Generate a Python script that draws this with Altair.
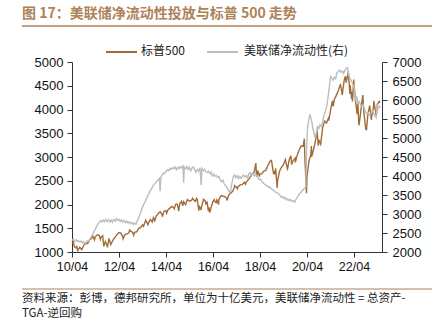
import altair as alt
import pandas as pd

# ---------------- data ----------------
sp_dates = [
    "2010-04-01", "2010-04-23", "2010-05-07", "2010-05-31", "2010-06-15", "2010-06-30", "2010-07-31", "2010-08-31",
    "2010-09-30", "2010-10-31", "2010-11-30", "2010-12-31",
    "2011-01-31", "2011-02-18", "2011-03-16", "2011-03-31", "2011-04-29", "2011-05-31", "2011-06-16", "2011-06-30",
    "2011-07-22", "2011-08-08", "2011-08-31", "2011-09-30", "2011-10-03", "2011-10-27", "2011-11-25", "2011-12-31",
    "2012-01-31", "2012-02-29", "2012-03-31", "2012-04-30", "2012-05-31", "2012-06-04", "2012-06-30", "2012-07-31",
    "2012-08-31", "2012-09-14", "2012-09-30", "2012-10-31", "2012-11-15", "2012-11-30", "2012-12-31",
    "2013-01-31", "2013-02-28", "2013-03-31", "2013-04-18", "2013-04-30", "2013-05-21", "2013-06-24", "2013-06-30",
    "2013-07-31", "2013-08-30", "2013-09-18", "2013-09-30", "2013-10-08", "2013-10-31", "2013-11-30", "2013-12-31",
    "2014-01-31", "2014-02-03", "2014-02-28", "2014-03-31", "2014-04-11", "2014-04-30", "2014-05-31", "2014-06-30",
    "2014-07-31", "2014-08-07", "2014-08-29", "2014-09-18", "2014-09-30", "2014-10-15", "2014-10-31", "2014-11-28",
    "2014-12-16", "2014-12-31",
    "2015-01-30", "2015-02-27", "2015-03-31", "2015-04-30", "2015-05-21", "2015-05-29", "2015-06-30", "2015-07-20",
    "2015-07-31", "2015-08-25", "2015-08-31", "2015-09-29", "2015-09-30", "2015-10-30", "2015-11-03", "2015-11-30",
    "2015-12-14", "2015-12-31",
    "2016-01-20", "2016-01-29", "2016-02-11", "2016-02-29", "2016-03-31", "2016-04-20", "2016-04-29", "2016-05-19",
    "2016-05-31", "2016-06-27", "2016-06-30", "2016-07-29", "2016-08-15", "2016-08-31", "2016-09-30", "2016-10-31",
    "2016-11-04", "2016-11-30", "2016-12-30",
    "2017-01-31", "2017-02-28", "2017-03-01", "2017-03-31", "2017-04-13", "2017-04-28", "2017-05-31", "2017-06-30",
    "2017-07-31", "2017-08-18", "2017-08-31", "2017-09-29", "2017-10-31", "2017-11-30", "2017-12-29",
    "2018-01-26", "2018-02-08", "2018-02-28", "2018-03-23", "2018-03-29", "2018-04-30", "2018-05-31", "2018-06-29",
    "2018-07-31", "2018-08-31", "2018-09-20", "2018-09-28", "2018-10-29", "2018-10-31", "2018-11-23", "2018-11-30",
    "2018-12-24", "2018-12-31",
    "2019-01-31", "2019-02-28", "2019-03-29", "2019-04-30", "2019-05-31", "2019-06-03", "2019-06-28", "2019-07-26",
    "2019-08-05", "2019-08-30", "2019-09-30", "2019-10-02", "2019-10-31", "2019-11-29", "2019-12-31",
    "2020-01-31", "2020-02-19", "2020-02-28", "2020-03-23", "2020-03-31", "2020-04-30", "2020-05-29", "2020-06-08",
    "2020-06-11", "2020-06-30", "2020-07-31", "2020-08-31", "2020-09-02", "2020-09-23", "2020-09-30", "2020-10-30",
    "2020-11-30", "2020-12-31",
    "2021-01-29", "2021-02-26", "2021-03-04", "2021-03-31", "2021-04-30", "2021-05-12", "2021-05-28", "2021-06-30",
    "2021-07-30", "2021-08-31", "2021-09-02", "2021-09-30", "2021-10-29", "2021-11-18", "2021-11-30", "2021-12-31",
    "2022-01-03", "2022-01-27", "2022-01-31", "2022-02-23", "2022-02-28", "2022-03-08", "2022-03-29", "2022-03-31",
    "2022-04-29", "2022-05-20", "2022-05-31", "2022-06-16", "2022-06-30", "2022-07-29", "2022-08-16", "2022-08-31",
    "2022-09-30", "2022-10-12", "2022-10-31", "2022-11-30", "2022-12-28", "2022-12-30",
    "2023-01-31", "2023-02-02", "2023-02-28", "2023-03-13", "2023-03-31", "2023-04-28", "2023-05-10",
]
sp_values = [
    1178, 1217, 1110, 1089, 1115, 1030, 1101, 1049, 1141, 1183, 1180, 1257,
    1286, 1343, 1257, 1325, 1363, 1345, 1267, 1320, 1345, 1119, 1218, 1131, 1099, 1284, 1158, 1257,
    1312, 1365, 1408, 1397, 1310, 1278, 1362, 1379, 1406, 1465, 1440, 1412, 1353, 1416, 1426,
    1498, 1514, 1569, 1541, 1597, 1669, 1573, 1606, 1685, 1633, 1725, 1681, 1656, 1757, 1806, 1848,
    1782, 1741, 1859, 1872, 1815, 1884, 1924, 1960, 1931, 1910, 2003, 2011, 1972, 1862, 2018, 2068, 1973, 2059,
    1995, 2105, 2068, 2086, 2131, 2107, 2063, 2129, 2104, 1868, 1972, 1884, 1920, 2079, 2109, 2080, 2012, 2044,
    1859, 1940, 1829, 1932, 2060, 2102, 2065, 2040, 2097, 2001, 2099, 2174, 2190, 2171, 2168, 2126, 2085, 2199, 2239,
    2279, 2364, 2396, 2363, 2329, 2384, 2412, 2423, 2470, 2425, 2472, 2519, 2575, 2648, 2674,
    2873, 2581, 2714, 2588, 2641, 2648, 2705, 2718, 2816, 2902, 2931, 2914, 2641, 2712, 2633, 2760, 2351, 2507,
    2704, 2784, 2834, 2946, 2752, 2744, 2942, 3026, 2845, 2926, 2977, 2887, 3038, 3141, 3231,
    3226, 3386, 2954, 2237, 2585, 2912, 3044, 3232, 3002, 3100, 3271, 3500, 3580, 3237, 3363, 3270, 3622, 3756,
    3714, 3811, 3768, 3973, 4181, 4063, 4204, 4298, 4395, 4523, 4537, 4308, 4605, 4704, 4567, 4766,
    4797, 4326, 4516, 4225, 4374, 4170, 4632, 4530, 4132, 3901, 4132, 3667, 3785, 4130, 4305, 3955,
    3586, 3577, 3872, 4080, 3783, 3840,
    4077, 4180, 3970, 3855, 4109, 4169, 4138,
]

liq_dates = [
    "2010-04-01", "2010-04-20", "2010-05-10", "2010-06-01", "2010-06-20", "2010-07-10", "2010-08-01", "2010-08-20",
    "2010-09-10", "2010-10-01", "2010-10-20", "2010-11-10", "2010-12-01", "2010-12-20",
    "2011-01-10", "2011-02-01", "2011-02-20", "2011-03-10", "2011-04-01", "2011-04-20", "2011-05-10", "2011-06-01",
    "2011-06-20", "2011-07-10", "2011-08-01", "2011-08-20", "2011-09-10", "2011-10-01", "2011-10-20", "2011-11-10",
    "2011-12-01", "2011-12-20",
    "2012-01-10", "2012-02-01", "2012-02-20", "2012-03-10", "2012-04-01", "2012-04-20", "2012-05-10", "2012-06-01",
    "2012-06-20", "2012-07-10", "2012-08-01", "2012-08-20", "2012-09-10", "2012-10-01", "2012-10-20", "2012-11-10",
    "2012-12-01", "2012-12-20",
    "2013-01-10", "2013-02-01", "2013-02-20", "2013-03-10", "2013-04-01", "2013-04-20", "2013-05-10", "2013-06-01",
    "2013-06-20", "2013-07-10", "2013-08-01", "2013-08-20", "2013-09-10", "2013-10-01", "2013-10-20", "2013-11-10",
    "2013-12-01", "2013-12-20", "2013-12-31",
    "2014-01-10", "2014-02-01", "2014-02-20", "2014-03-10", "2014-04-01", "2014-04-20", "2014-05-10", "2014-06-01",
    "2014-06-20", "2014-07-10", "2014-08-01", "2014-08-20", "2014-09-10", "2014-10-01", "2014-10-20", "2014-11-10",
    "2014-12-01", "2014-12-20", "2014-12-31",
    "2015-01-10", "2015-02-01", "2015-02-20", "2015-03-10", "2015-04-01", "2015-04-20", "2015-05-10", "2015-06-01",
    "2015-06-20", "2015-07-10", "2015-08-01", "2015-08-20", "2015-09-10", "2015-09-30", "2015-10-10", "2015-11-01",
    "2015-11-20", "2015-12-10",
    "2016-01-01", "2016-01-20", "2016-02-10", "2016-03-01", "2016-03-20", "2016-04-10", "2016-05-01", "2016-05-20",
    "2016-06-10", "2016-07-01", "2016-07-20", "2016-08-10", "2016-09-01", "2016-09-20", "2016-10-10", "2016-11-01",
    "2016-11-20", "2016-12-10", "2016-12-31",
    "2017-01-20", "2017-02-10", "2017-03-01", "2017-03-20", "2017-04-10", "2017-05-01", "2017-05-20", "2017-06-10",
    "2017-07-01", "2017-07-20", "2017-08-10", "2017-09-01", "2017-09-20", "2017-10-10", "2017-11-01", "2017-11-20",
    "2017-12-10",
    "2018-01-01", "2018-01-20", "2018-02-10", "2018-03-01", "2018-03-20", "2018-04-10", "2018-05-01", "2018-05-20",
    "2018-06-10", "2018-07-01", "2018-07-20", "2018-08-10", "2018-09-01", "2018-09-20", "2018-10-10", "2018-11-01",
    "2018-11-20", "2018-12-10",
    "2019-01-01", "2019-01-20", "2019-02-10", "2019-03-01", "2019-03-20", "2019-04-10", "2019-05-01", "2019-05-20",
    "2019-06-10", "2019-07-01", "2019-07-20", "2019-08-10", "2019-09-01", "2019-09-20", "2019-10-10", "2019-11-01",
    "2019-11-20", "2019-12-10",
    "2020-01-01", "2020-01-20", "2020-02-10", "2020-03-01", "2020-03-11", "2020-03-25", "2020-04-08", "2020-04-25",
    "2020-05-15", "2020-06-01", "2020-06-15", "2020-07-01", "2020-07-20", "2020-08-05", "2020-08-20", "2020-09-10",
    "2020-10-01", "2020-10-20", "2020-11-10", "2020-12-01", "2020-12-20",
    "2021-01-10", "2021-02-01", "2021-02-20", "2021-03-10", "2021-04-01", "2021-04-20", "2021-05-10", "2021-06-01",
    "2021-06-20", "2021-07-10", "2021-08-01", "2021-08-20", "2021-09-10", "2021-10-01", "2021-10-20", "2021-11-10",
    "2021-12-01", "2021-12-20",
    "2022-01-10", "2022-02-01", "2022-02-20", "2022-03-10", "2022-04-01", "2022-04-20", "2022-05-10", "2022-06-01",
    "2022-06-20", "2022-07-10", "2022-08-01", "2022-08-20", "2022-09-10", "2022-10-01", "2022-10-20", "2022-11-10",
    "2022-12-01", "2022-12-20",
    "2023-01-10", "2023-02-01", "2023-02-20", "2023-03-10", "2023-03-20", "2023-04-10", "2023-05-01", "2023-05-15",
]
liq_values = [
    2300, 2340, 2290, 2320, 2270, 2300, 2260, 2290, 2240, 2270, 2230, 2260, 2300, 2280,
    2360, 2420, 2480, 2540, 2610, 2680, 2740, 2780, 2830, 2790, 2840, 2800, 2860, 2800, 2850, 2790, 2840, 2780,
    2860, 2810, 2880, 2830, 2860, 2800, 2850, 2790, 2830, 2770, 2810, 2760, 2800, 2740, 2780, 2720, 2760, 2730,
    2820, 2900, 2990, 3080, 3180, 3260, 3320, 3400, 3470, 3540, 3620, 3660, 3740, 3780, 3820, 3860, 3900, 3940, 3600,
    3960, 4030, 4080, 4060, 4120, 4160, 4140, 4200, 4170, 4220, 4190, 4240, 4160, 4230, 4190, 4250, 4210, 4260, 3820,
    4230, 4190, 4250, 4170, 4230, 4140, 4210, 4240, 4160, 4100, 4180, 4130, 4210, 3760, 4200, 4140, 4180, 4120,
    4090, 4130, 4060, 4110, 4000, 4050, 3990, 4020, 3960, 3990, 3900, 3850, 3890, 3800, 3760, 3700, 3640, 3580, 3620,
    3820, 3980, 4030, 3960, 4010, 3930, 3990, 3940, 3990, 4030, 3970, 4010, 3950, 4060, 4090, 4020, 4070,
    4000, 4060, 3990, 3950, 3900, 3920, 3850, 3820, 3780, 3760, 3740, 3700, 3720, 3660, 3650, 3610, 3590, 3560,
    3550, 3520, 3480, 3440, 3460, 3400, 3430, 3370, 3390, 3350, 3380, 3330, 3350, 3310, 3380, 3440, 3500, 3540,
    3580, 3620, 3660, 3690, 3700, 4700, 5250, 5450, 5630, 5520, 5420, 5250, 5120, 5000, 5100, 5300,
    5250, 5350, 5300, 5450, 5600,
    5700, 5830, 6050, 6300, 6620, 6580, 6520, 6600, 6560, 6720, 6750, 6790, 6730, 6760, 6700, 6780, 6830, 6850,
    6640, 6560, 6500, 6420, 6350, 5980, 6100, 5920, 5960, 5880, 5830, 5870, 5760, 5680, 5620, 5660, 5600, 5650,
    5710, 5640, 5590, 5540, 5900, 5780, 5840, 5800,
]

x_tick_years = [2010, 2012, 2014, 2016, 2018, 2020, 2022]
left_ticks = [1000, 1500, 2000, 2500, 3000, 3500, 4000, 4500, 5000]
right_ticks = [2000, 2500, 3000, 3500, 4000, 4500, 5000, 5500, 6000, 6500, 7000]

title_text = "图 17：美联储净流动性投放与标普 500 走势"
legend_sp = "标普500"
legend_liq = "美联储净流动性(右)"
source_line1 = "资料来源：彭博，德邦研究所，单位为十亿美元，美联储净流动性 = 总资产-"
source_line2 = "TGA-逆回购"

# ---------------- chart ----------------
BROWN = "#a06c3a"
GRAY = "#bdbdbd"
TAN = "#ae8258"
CJK = "Noto Sans CJK SC"
LAT = "Liberation Sans"

sp_df = pd.DataFrame({"date": sp_dates, "value": sp_values})
liq_df = pd.DataFrame({"date": liq_dates, "value": liq_values})

xscale = alt.Scale(
    type="utc",
    domain=[alt.DateTime(year=2010, month=4, date=1, utc=True),
            alt.DateTime(year=2023, month=6, date=10, utc=True)],
)
xaxis = alt.Axis(
    values=[alt.DateTime(year=y, month=4, date=1, utc=True) for y in x_tick_years],
    labelExpr="utcFormat(datum.value, '%y/%m')", title=None, grid=False,
    labelFont=LAT, labelFontSize=12.5, labelColor="#111", labelPadding=3,
    tickSize=5, tickColor="#333", domainColor="#333", labelFlush=False,
)

sp_line = alt.Chart(sp_df).mark_line(color=BROWN, strokeWidth=1.4).encode(
    x=alt.X("date:T", scale=xscale, axis=xaxis),
    y=alt.Y("value:Q", scale=alt.Scale(domain=[1000, 5000], nice=False, zero=False),
            axis=alt.Axis(orient="left", values=left_ticks, format="d", title=None, grid=False,
                          labelFont=LAT, labelFontSize=13, labelColor="#111", labelPadding=4,
                          tickSize=5, tickColor="#333", domainColor="#333")),
)

liq_line = alt.Chart(liq_df).mark_line(color=GRAY, strokeWidth=1.4).encode(
    x=alt.X("date:T", scale=xscale, axis=xaxis),
    y=alt.Y("value:Q", scale=alt.Scale(domain=[2000, 7000], nice=False, zero=False),
            axis=alt.Axis(orient="right", values=right_ticks, format="d", title=None, grid=False,
                          labelFont=LAT, labelFontSize=13, labelColor="#111", labelPadding=5,
                          tickSize=5, tickColor="#333", domainColor="#333")),
)

lines = alt.layer(sp_line, liq_line).resolve_scale(y="independent")

# decorations (pixel positions relative to plot origin)
title = alt.Chart(pd.DataFrame({"t": [title_text]})).mark_text(
    font=CJK, fontSize=14, fontWeight="bold", color=TAN, align="left", baseline="middle"
).encode(text="t:N", x=alt.value(-50), y=alt.value(-48))

top_rule = alt.Chart(pd.DataFrame({"a": [0]})).mark_rule(color=TAN, strokeWidth=1.5).encode(
    x=alt.value(-50), x2=alt.value(360), y=alt.value(-36))
bottom_rule = alt.Chart(pd.DataFrame({"a": [0]})).mark_rule(color=TAN, strokeWidth=1.2).encode(
    x=alt.value(-50), x2=alt.value(360), y=alt.value(227))

leg_r1 = alt.Chart(pd.DataFrame({"a": [0]})).mark_rule(color=BROWN, strokeWidth=2).encode(
    x=alt.value(34), x2=alt.value(65), y=alt.value(-10))
leg_t1 = alt.Chart(pd.DataFrame({"t": [legend_sp]})).mark_text(
    font=CJK, fontSize=12, color="#222", align="left", baseline="middle"
).encode(text="t:N", x=alt.value(69), y=alt.value(-11))
leg_r2 = alt.Chart(pd.DataFrame({"a": [0]})).mark_rule(color=GRAY, strokeWidth=2).encode(
    x=alt.value(135), x2=alt.value(166), y=alt.value(-10))
leg_t2 = alt.Chart(pd.DataFrame({"t": [legend_liq]})).mark_text(
    font=CJK, fontSize=12, color="#222", align="left", baseline="middle"
).encode(text="t:N", x=alt.value(172), y=alt.value(-11))

src1 = alt.Chart(pd.DataFrame({"t": [source_line1]})).mark_text(
    font=CJK, fontSize=11.5, color="#222", align="left", baseline="middle"
).encode(text="t:N", x=alt.value(-50), y=alt.value(237))
src2 = alt.Chart(pd.DataFrame({"t": [source_line2]})).mark_text(
    font=CJK, fontSize=11.5, color="#222", align="left", baseline="middle"
).encode(text="t:N", x=alt.value(-50), y=alt.value(252))

chart = alt.layer(
    lines, title, top_rule, bottom_rule, leg_r1, leg_t1, leg_r2, leg_t2, src1, src2
).properties(
    width=310, height=190,
    autosize=alt.AutoSizeParams(type="none"),
    padding={"left": 72, "top": 62, "right": 57, "bottom": 70},
    background="white",
).configure_view(stroke=None)

chart.save("out.html", embed_options={"renderer": "svg", "actions": False})
